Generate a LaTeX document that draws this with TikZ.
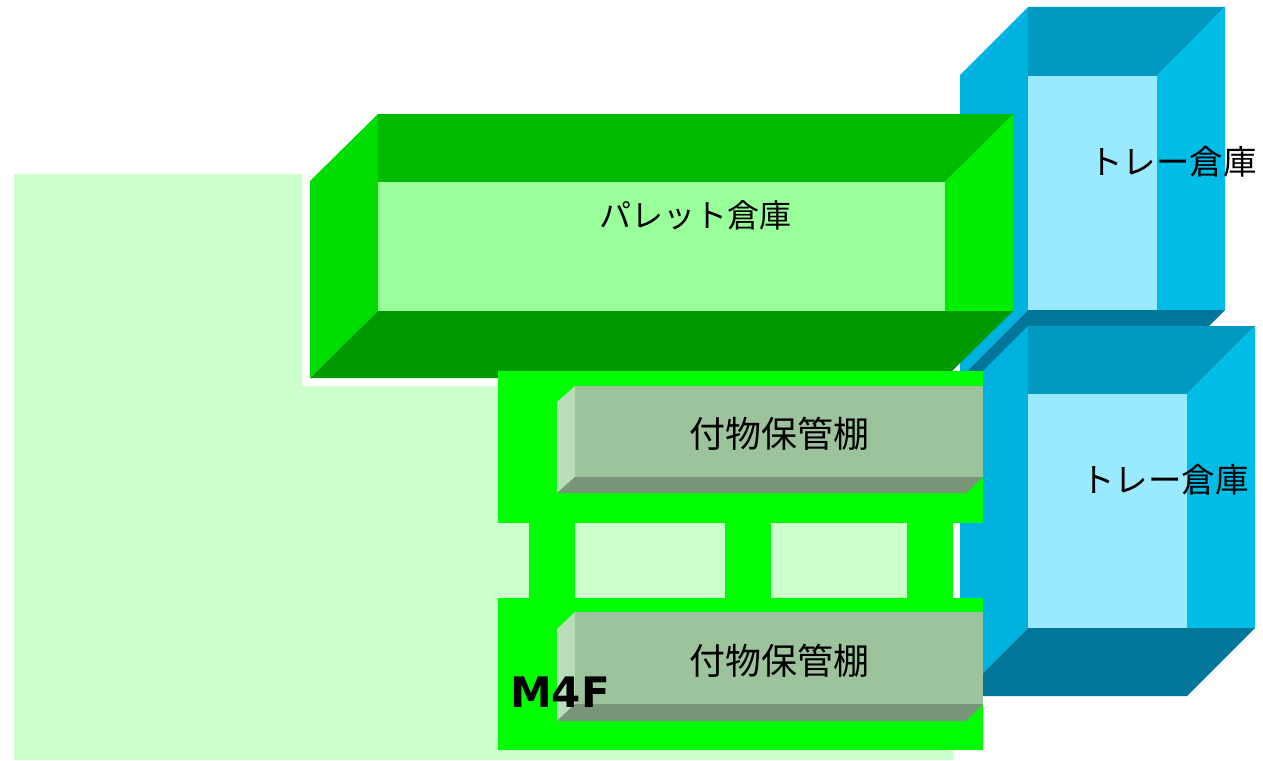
\documentclass[tikz,border=0pt]{standalone}
\usepackage{fontspec}
\newfontfamily\jp{Noto Sans CJK JP}
\newfontfamily\mf{DejaVu Sans}
\definecolor{bgg}{HTML}{CCFFCC}
\definecolor{pL}{HTML}{00DD00}
\definecolor{pT}{HTML}{00BB00}
\definecolor{pR}{HTML}{00EE00}
\definecolor{pB}{HTML}{009900}
\definecolor{pI}{HTML}{99FF99}
\definecolor{tL}{HTML}{00B2E0}
\definecolor{tT}{HTML}{009AC2}
\definecolor{tR}{HTML}{00BDE8}
\definecolor{tB}{HTML}{007799}
\definecolor{tI}{HTML}{99E9FF}
\definecolor{fr}{HTML}{00FF00}
\definecolor{sL}{HTML}{B8DDB8}
\definecolor{sF}{HTML}{9CC39C}
\definecolor{sB}{HTML}{7A967A}
\begin{document}
\begin{tikzpicture}[x=1pt,y=-1pt,
  lbl/.style={inner sep=0pt, font=\jp\fontsize{32}{36}\selectfont},
  trlbl/.style={inner sep=0pt, font=\jp\fontsize{33.5}{38}\selectfont},
  shlbl/.style={inner sep=0pt, font=\jp\fontsize{36}{40}\selectfont},
  flbl/.style={inner sep=0pt, font=\mf\bfseries\fontsize{42}{48}\selectfont}]
\useasboundingbox (0,0) rectangle (1263,760);
% background
\fill[bgg] (14,174) -- (302,174) -- (302,386) -- (953,386) -- (953,760) -- (14,760) -- cycle;
% upper tray warehouse
\fill[tL] (960,75) -- (1028,7) -- (1028,310) -- (960,378) -- cycle;
\fill[tT] (1028,7) -- (1225,7) -- (1157,76) -- (1028,76) -- cycle;
\fill[tR] (1157,76) -- (1225,7) -- (1225,310) -- (1157,310) -- cycle;
\fill[tB] (1028,310) -- (1225,310) -- (1157,378) -- (960,378) -- cycle;
\fill[tI] (1028,76) rectangle (1157,310);
% lower tray warehouse
\fill[tL] (960,394) -- (1028,326) -- (1028,628) -- (960,696) -- cycle;
\fill[tT] (1028,326) -- (1255,326) -- (1187,394) -- (1028,394) -- cycle;
\fill[tR] (1187,394) -- (1255,326) -- (1255,628) -- (1187,628) -- cycle;
\fill[tB] (1028,628) -- (1255,628) -- (1187,696) -- (960,696) -- cycle;
\fill[tI] (1028,394) rectangle (1187,628);
% pallet warehouse
\fill[pL] (310,181) -- (378,114) -- (378,311) -- (310,378) -- cycle;
\fill[pT] (378,114) -- (1013,114) -- (945,182) -- (378,182) -- cycle;
\fill[pR] (945,182) -- (1013,114) -- (1013,311) -- (945,311) -- cycle;
\fill[pB] (378,311) -- (1013,311) -- (945,378) -- (310,378) -- cycle;
\fill[pI] (378,182) rectangle (945,311);
% M4F frame
\fill[fr] (498,371) rectangle (983,523);
\fill[fr] (498,598) rectangle (983,750);
\fill[fr] (529,523) rectangle (575,598);
\fill[fr] (725,523) rectangle (771,598);
\fill[fr] (907,523) rectangle (953,598);
% shelves
\fill[sL] (557,402) -- (575,386) -- (575,477) -- (557,493) -- cycle;
\fill[sF] (575,386) rectangle (983,477);
\fill[sB] (575,477) -- (983,477) -- (966,493) -- (557,493) -- cycle;
\fill[sL] (557,629) -- (575,612) -- (575,704) -- (557,721) -- cycle;
\fill[sF] (575,612) rectangle (983,704);
\fill[sB] (575,704) -- (983,704) -- (966,721) -- (557,721) -- cycle;
% labels
\node[lbl] (pal) at (695,215) {パレット倉庫};
\node[trlbl] (tray1) at (1173,162) {トレー倉庫};
\node[trlbl] (tray2) at (1165,480) {トレー倉庫};
\node[shlbl] (shelf1) at (779,434) {付物保管棚};
\node[shlbl] (shelf2) at (779,661) {付物保管棚};
\node[flbl] (m4f) at (560,692) {M4F};
\end{tikzpicture}
\end{document}
